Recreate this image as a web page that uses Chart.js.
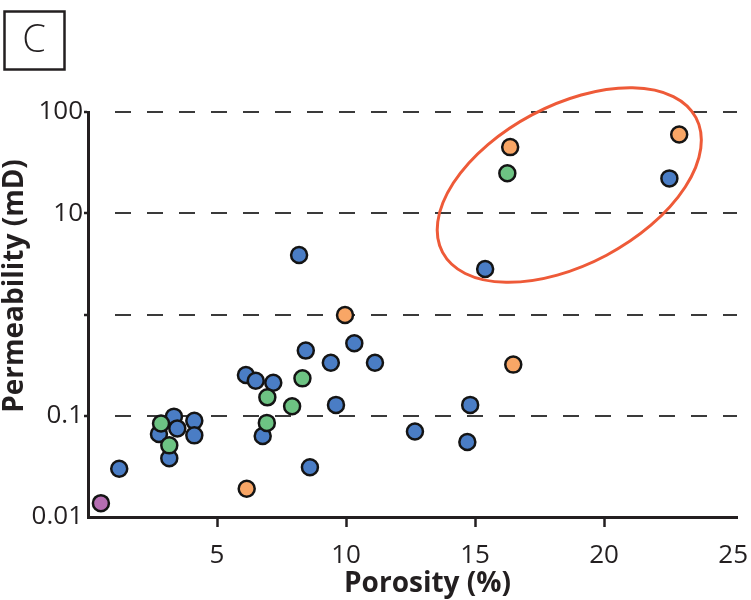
<!DOCTYPE html>
<html>
<head>
<meta charset="utf-8">
<script src="https://cdn.jsdelivr.net/npm/chart.js@4.4.0/dist/chart.umd.min.js"></script>
<style>
  html, body { margin: 0; padding: 0; background: #ffffff; }
  #wrap { width: 751px; height: 600px; position: relative; }
</style>
</head>
<body>
<div id="wrap"><canvas id="chart" width="751" height="600"></canvas></div>
<script>
// Labels and ticks
const panelLabel = 'C';
const xTitle = 'Porosity (%)';
const yTitle = 'Permeability (mD)';
const xTicks = [0, 5, 10, 15, 20, 25];
const yTicks = [0.01, 0.1, 1, 10, 100];
const yTickLabels = ['0.01', '0.1', '', '10', '100'];

// Sample groups: porosity (%) and permeability (mD)
const greenPorosity = [2.83, 3.15, 6.93, 6.95, 7.91, 8.31, 16.25];
const greenPerm     = [0.084, 0.051, 0.085, 0.152, 0.124, 0.234, 24.8];

const bluePorosity = [1.21, 2.75, 3.15, 3.33, 3.46, 4.12, 4.12, 6.12, 6.50, 6.77, 7.18,
                      8.18, 8.44, 8.60, 9.41, 9.61, 10.32, 11.12, 12.67, 14.70, 14.81, 15.39, 22.53];
const bluePerm     = [0.030, 0.066, 0.038, 0.098, 0.075, 0.089, 0.064, 0.253, 0.222, 0.063, 0.212,
                      3.87, 0.44, 0.031, 0.334, 0.128, 0.52, 0.334, 0.070, 0.055, 0.128, 2.81, 22.1];

const orangePorosity = [6.15, 9.96, 16.36, 16.48, 22.91];
const orangePerm     = [0.019, 0.99, 45.0, 0.32, 60.0];

const purplePorosity = [0.50];
const purplePerm     = [0.0137];

// Highlighted high-permeability group (centre in data units, radii in porosity units)
const highlightCentre = { x: 18.65, y: 19.0 };
const highlightRadii = { major: 5.56, minor: 3.08 };
const highlightTiltDeg = -28;

const ink = '#231f20';

function points(xs, ys) {
  return xs.map((x, i) => ({ x: x, y: ys[i] }));
}
function series(label, xs, ys, fill) {
  return {
    label: label,
    data: points(xs, ys),
    backgroundColor: fill,
    borderColor: '#141414',
    borderWidth: 2.5,
    pointRadius: 8,
    pointHoverRadius: 8
  };
}

// Dashed grid: first dash begins 25px in, then 16 on / 16 off
const gridDash = [0, 25];
for (let i = 0; i < 22; i++) gridDash.push(16, 16);

const decor = {
  id: 'decor',
  afterDatasetsDraw(chart) {
    const { ctx, scales: { x, y } } = chart;
    const cx = x.getPixelForValue(highlightCentre.x);
    const cy = y.getPixelForValue(highlightCentre.y);
    const unit = x.getPixelForValue(1) - x.getPixelForValue(0);
    ctx.save();
    ctx.beginPath();
    ctx.ellipse(cx, cy, highlightRadii.major * unit, highlightRadii.minor * unit,
                highlightTiltDeg * Math.PI / 180, 0, Math.PI * 2);
    ctx.strokeStyle = '#ee5a38';
    ctx.lineWidth = 3;
    ctx.stroke();
    ctx.restore();
  },
  afterDraw(chart) {
    const { ctx, chartArea } = chart;
    ctx.save();
    ctx.fillStyle = ink;
    // axis titles
    ctx.font = 'bold 28px "Open Sans"';
    ctx.textAlign = 'center';
    ctx.textBaseline = 'alphabetic';
    ctx.fillText(xTitle, (chartArea.left + chartArea.right) / 2 + 15, 592);
    ctx.translate(23, 286);
    ctx.rotate(-Math.PI / 2);
    ctx.fillText(yTitle, 0, 0);
    ctx.restore();

    // panel letter box
    ctx.save();
    ctx.strokeStyle = ink;
    ctx.lineWidth = 2.5;
    ctx.strokeRect(4.5, 11.5, 60, 58);
    ctx.fillStyle = ink;
    ctx.font = '300 38px "Open Sans"';
    ctx.textAlign = 'center';
    ctx.textBaseline = 'middle';
    ctx.fillText(panelLabel, 34, 41);
    ctx.restore();
  }
};

new Chart(document.getElementById('chart'), {
  type: 'scatter',
  data: {
    datasets: [
      series('green', greenPorosity, greenPerm, '#6dc383'),
      series('blue', bluePorosity, bluePerm, '#4a7dc5'),
      series('orange', orangePorosity, orangePerm, '#f8a666'),
      series('purple', purplePorosity, purplePerm, '#b56db2')
    ]
  },
  options: {
    responsive: false,
    animation: false,
    events: [],
    layout: { padding: { top: 112, right: 14, left: 0, bottom: 0 } },
    plugins: { legend: { display: false }, tooltip: { enabled: false } },
    scales: {
      x: {
        type: 'linear',
        min: 0,
        max: 25.15,
        afterBuildTicks: s => { s.ticks = xTicks.map(v => ({ value: v })); },
        afterFit: s => { s.height = 83; s.paddingLeft = 0; s.paddingRight = 0; },
        ticks: {
          autoSkip: false,
          maxRotation: 0,
          padding: 13,
          color: ink,
          font: { family: 'Open Sans', size: 26 },
          callback: v => (v === 0 ? '' : String(v))
        },
        grid: {
          drawOnChartArea: false,
          drawTicks: true,
          tickLength: 10,
          tickWidth: 2.5,
          tickColor: c => (c.tick && (c.tick.value === 0 || c.tick.value === 25)) ? 'rgba(0,0,0,0)' : ink
        },
        border: { display: true, color: ink, width: 3 }
      },
      y: {
        type: 'logarithmic',
        min: 0.01,
        max: 100,
        afterBuildTicks: s => { s.ticks = yTicks.map(v => ({ value: v })); },
        afterFit: s => { s.width = 88; s.paddingTop = 0; s.paddingBottom = 0; },
        ticks: {
          autoSkip: false,
          padding: 1,
          color: ink,
          font: { family: 'Open Sans', size: 26 },
          callback: (v, i) => yTickLabels[i]
        },
        grid: {
          color: c => (c.index === 0 ? 'rgba(0,0,0,0)' : '#3a3a3a'),
          lineWidth: 2,
          drawTicks: true,
          tickLength: 4,
          tickWidth: 2.5,
          tickColor: c => (c.index === 0 ? 'rgba(0,0,0,0)' : ink)
        },
        border: { display: true, color: ink, width: 3, dash: gridDash, dashOffset: 0 }
      }
    }
  },
  plugins: [decor]
});
</script>
</body>
</html>
